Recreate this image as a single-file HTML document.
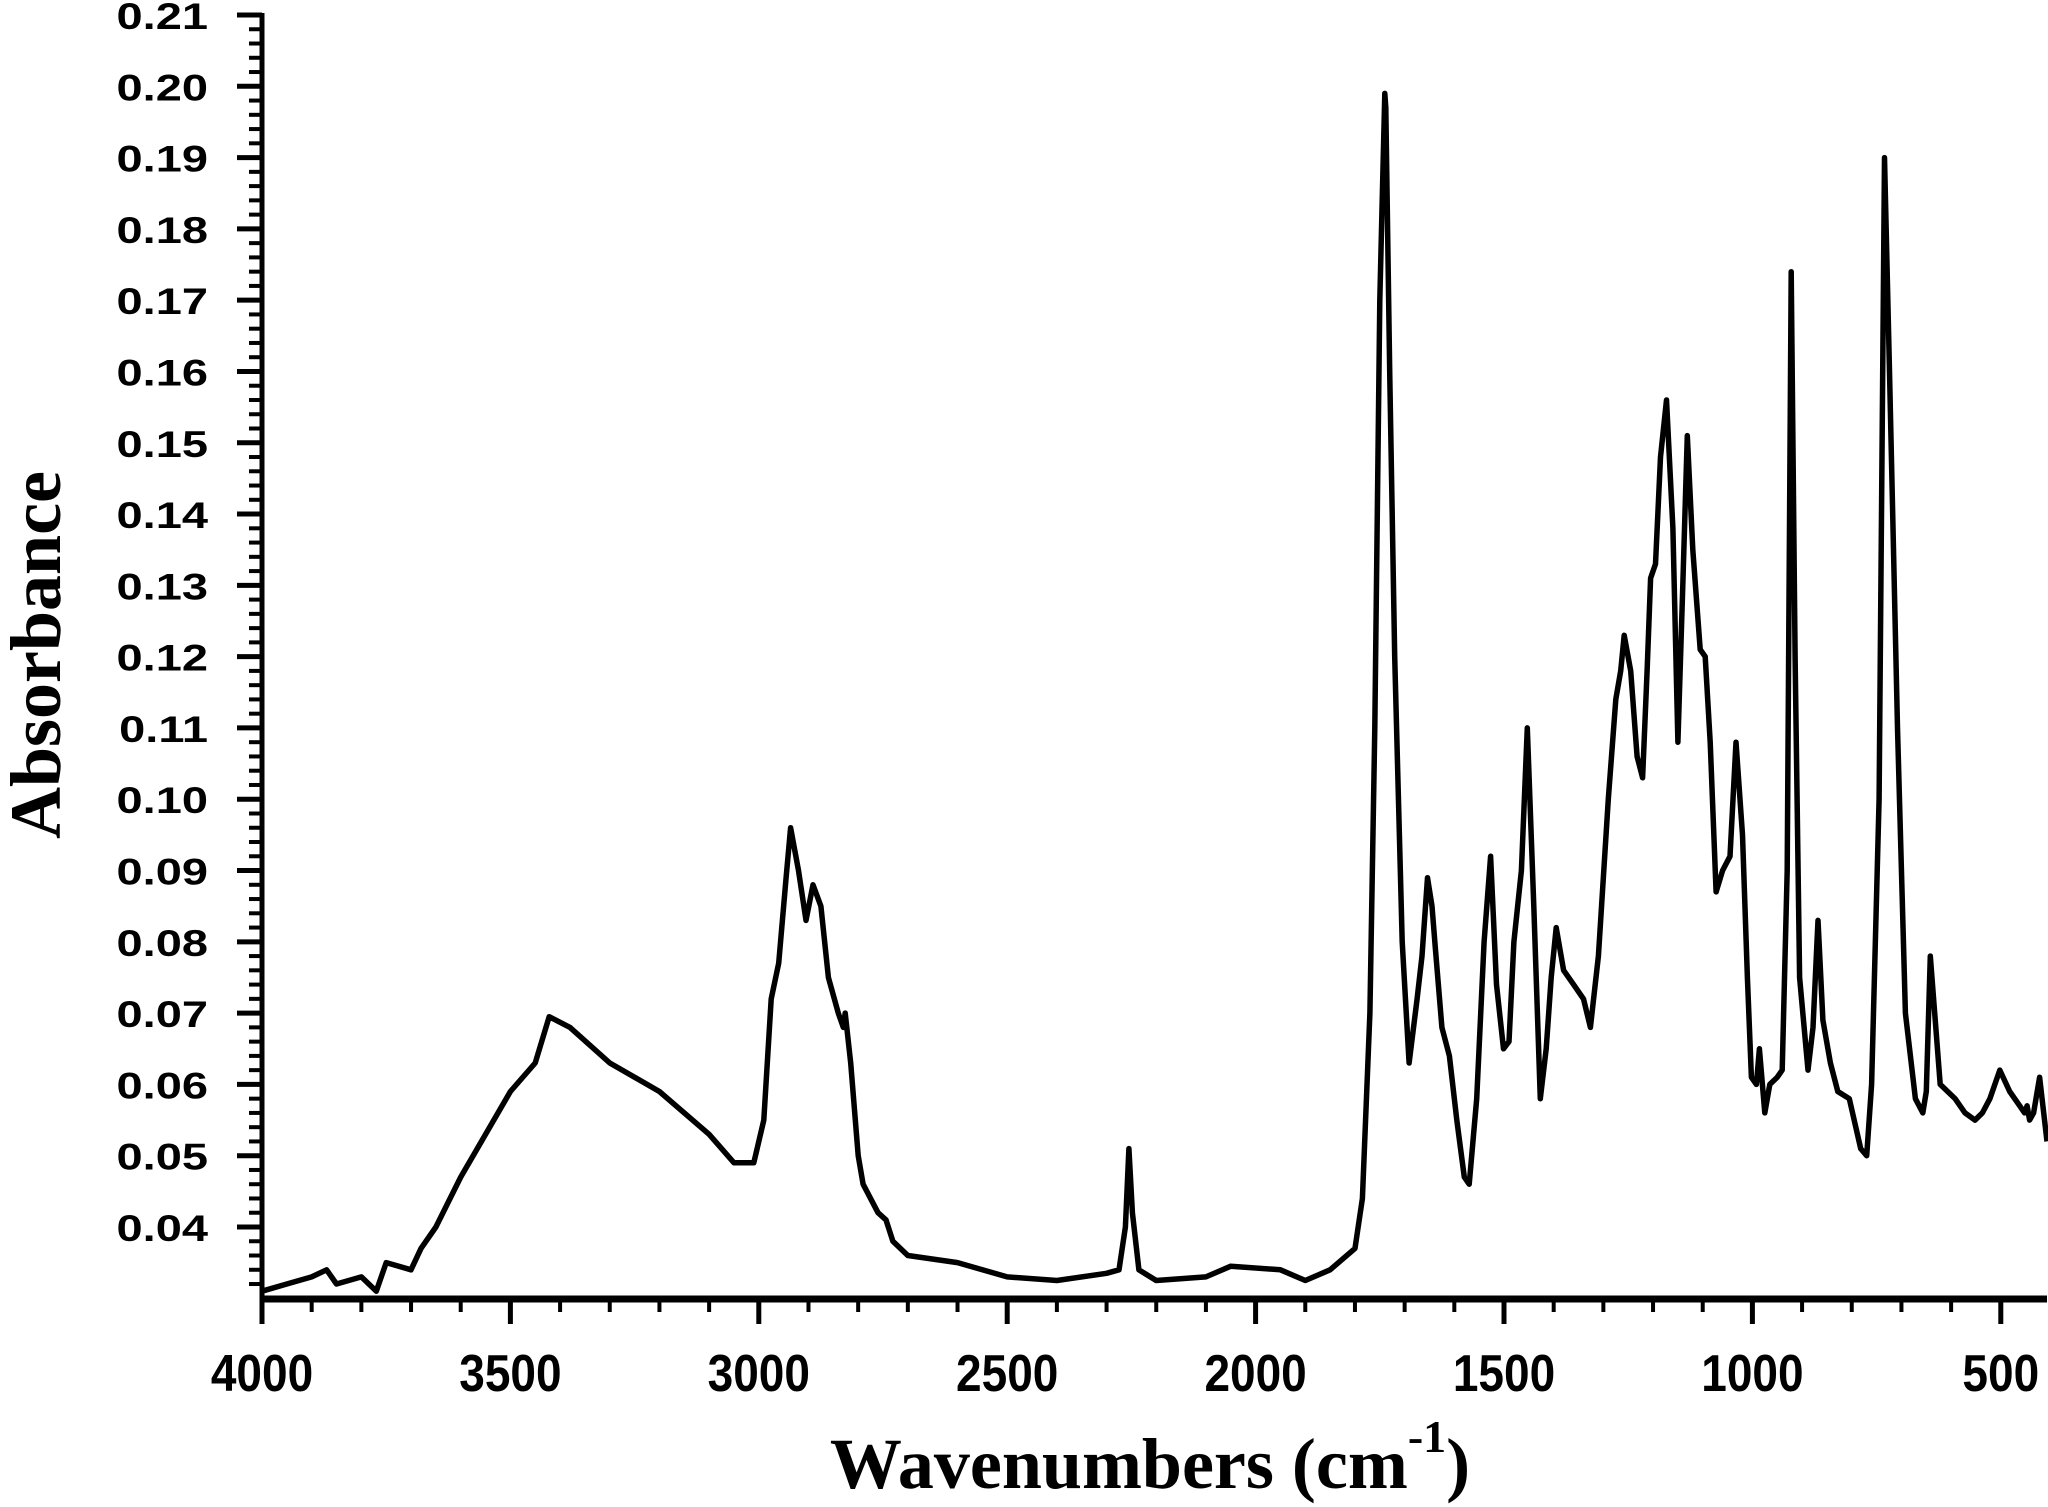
<!DOCTYPE html>
<html><head><meta charset="utf-8"><style>
html,body{margin:0;padding:0;background:#fff;width:2048px;height:1507px;overflow:hidden}
svg{display:block}
</style></head><body>
<svg id="chart" width="2048" height="1507" viewBox="0 0 2048 1507" xmlns="http://www.w3.org/2000/svg">
<g id="axes"></g>
<path id="spectrum" fill="none" stroke="#000" stroke-width="5.5" stroke-linejoin="round"></path>
<text x="1150" y="1488" text-anchor="middle" font-family="Liberation Serif, serif" font-weight="bold" font-size="72">Wavenumbers (cm<tspan font-size="46" dy="-36">-1</tspan><tspan dy="36">)</tspan></text>
<text transform="translate(60,655) rotate(-90)" text-anchor="middle" font-family="Liberation Serif, serif" font-weight="bold" font-size="72">Absorbance</text>
</svg>
<script>
const wavenumbers = [4000,3950,3900,3870,3850,3800,3770,3750,3700,3680,3650,3600,3550,3500,3450,3422,3380,3300,3200,3100,3050,3010,2990,2975,2960,2945,2936,2920,2905,2891,2875,2860,2840,2830,2826,2815,2800,2790,2760,2744,2730,2700,2600,2500,2400,2300,2275,2262,2255,2248,2235,2200,2100,2050,1950,1900,1850,1800,1785,1770,1760,1750,1740,1738,1730,1720,1705,1691,1675,1665,1654,1645,1638,1625,1610,1595,1580,1570,1555,1540,1527,1515,1501,1490,1480,1465,1453,1440,1427,1415,1405,1395,1380,1360,1340,1326,1310,1290,1275,1265,1258,1245,1232,1221,1212,1205,1195,1185,1173,1160,1150,1140,1131,1120,1105,1095,1085,1073,1060,1045,1033,1020,1010,1002,992,986,975,965,950,940,930,922,914,905,888,878,868,858,843,828,805,782,770,760,745,734,724,708,692,672,657,650,642,622,592,572,552,537,522,502,482,462,452,447,442,434,422,407];
const absorbance = [0.031,0.032,0.033,0.034,0.032,0.033,0.031,0.035,0.034,0.037,0.040,0.047,0.053,0.059,0.063,0.0695,0.068,0.063,0.059,0.053,0.049,0.049,0.055,0.072,0.077,0.089,0.096,0.090,0.083,0.088,0.085,0.075,0.070,0.068,0.070,0.063,0.050,0.046,0.042,0.041,0.038,0.036,0.035,0.033,0.0325,0.0335,0.034,0.040,0.051,0.042,0.034,0.0325,0.033,0.0345,0.034,0.0325,0.034,0.037,0.044,0.070,0.110,0.170,0.199,0.197,0.160,0.120,0.080,0.063,0.072,0.078,0.089,0.085,0.079,0.068,0.064,0.055,0.047,0.046,0.058,0.080,0.092,0.074,0.065,0.066,0.080,0.090,0.110,0.085,0.058,0.065,0.075,0.082,0.076,0.074,0.072,0.068,0.078,0.100,0.114,0.118,0.123,0.118,0.106,0.103,0.118,0.131,0.133,0.148,0.156,0.138,0.108,0.130,0.151,0.135,0.121,0.120,0.108,0.087,0.090,0.092,0.108,0.095,0.075,0.061,0.060,0.065,0.056,0.060,0.061,0.062,0.090,0.174,0.120,0.075,0.062,0.068,0.083,0.069,0.063,0.059,0.058,0.051,0.050,0.060,0.100,0.190,0.160,0.110,0.070,0.058,0.056,0.059,0.078,0.060,0.058,0.056,0.055,0.056,0.058,0.062,0.059,0.057,0.056,0.057,0.055,0.056,0.061,0.052,0.062,0.051,0.050];
const xTicks = ["4000","3500","3000","2500","2000","1500","1000","500"];
const yTicks = ["0.04","0.05","0.06","0.07","0.08","0.09","0.10","0.11","0.12","0.13","0.14","0.15","0.16","0.17","0.18","0.19","0.20","0.21"];

const X0=262, XMAX=2047, Y0=1299, YTOP=15;
const wnMax=4000, wnMin=4000-(XMAX-X0)/0.4968;
const vMin=0.0299, vMax=0.21;
function xs(w){return X0+(wnMax-w)/(wnMax-wnMin)*(XMAX-X0);}
function ys(v){return Y0-(v-vMin)/(vMax-vMin)*(Y0-YTOP);}

const NS="http://www.w3.org/2000/svg";
const axes=document.getElementById('axes');
function mk(tag,attrs,parent){const e=document.createElementNS(NS,tag);for(const k in attrs)e.setAttribute(k,attrs[k]);(parent||axes).appendChild(e);return e;}

let yl=mk('line',{x1:X0,y1:YTOP-2,x2:X0,y2:Y0+3,stroke:'#000','stroke-width':5});


let xl=mk('line',{x1:X0-2,y1:Y0,x2:XMAX,y2:Y0,stroke:'#000','stroke-width':7});



for(let v=0.032;v<=0.2101;v+=0.002){
  const t=mk('line',{x1:X0-13,y1:ys(v),x2:X0,y2:ys(v),stroke:'#000','stroke-width':4});
  
  
}
yTicks.forEach(s=>{
  const v=parseFloat(s), y=ys(v);
  const t=mk('line',{x1:X0-25,y1:y,x2:X0,y2:y,stroke:'#000','stroke-width':5});
  
  
  const tx=mk('text',{x:0,y:0,'text-anchor':'end','font-family':'Liberation Sans, sans-serif','font-weight':'bold','font-size':47,transform:`translate(${X0-54},${y+14}) scale(1,0.78)`});
  tx.textContent=s;
  
  
});
for(let w=3900;w>=wnMin;w-=100){
  const t=mk('line',{x1:xs(w),y1:Y0,x2:xs(w),y2:Y0+13,stroke:'#000','stroke-width':4});
  
  
}
xTicks.forEach(s=>{
  const x=xs(parseFloat(s));
  const t=mk('line',{x1:x,y1:Y0,x2:x,y2:Y0+25,stroke:'#000','stroke-width':5});
  
  
  const tx=mk('text',{x:0,y:0,'text-anchor':'middle','font-family':'Liberation Sans, sans-serif','font-weight':'bold','font-size':46,transform:`translate(${x},${Y0+92}) scale(1,1.12)`});
  tx.textContent=s;
  
  
});

let d='';
wavenumbers.forEach((w,i)=>{d+=(i?'L':'M')+xs(w).toFixed(1)+','+ys(absorbance[i]).toFixed(1);});
document.getElementById('spectrum').setAttribute('d',d);
</script>
</body></html>
